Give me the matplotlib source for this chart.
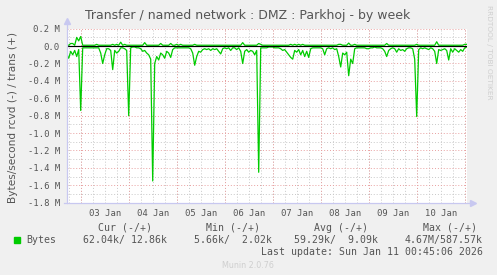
import numpy as np
import pandas as pd
import matplotlib
matplotlib.use("Agg")
import matplotlib.pyplot as plt
import matplotlib.dates as mdates
from matplotlib.transforms import blended_transform_factory

# ---------------- data (MB/s, hourly samples) ----------------
start_time = "2026-01-02 16:45"
rcvd = [0.10, 0.14, 0.06, 0.10, 0.05, 0.12, 0.04, 0.74, 0.02, 0.02,
        0.02, 0.02, 0.02, 0.02, 0.02, 0.02, 0.02, 0.08, 0.20, 0.10,
        0.03, 0.03, 0.05, 0.27, 0.05, 0.08, 0.06, 0.02, 0.02, 0.03,
        0.05, 0.80, 0.02, 0.01, 0.01, 0.02, 0.02, 0.03, 0.06, 0.05,
        0.08, 0.10, 0.15, 1.55, 0.20, 0.12, 0.16, 0.08, 0.10, 0.14,
        0.06, 0.08, 0.13, 0.04, 0.02, 0.02, 0.02, 0.02, 0.02, 0.02,
        0.02, 0.02, 0.03, 0.08, 0.22, 0.12, 0.06, 0.07, 0.04, 0.03,
        0.04, 0.03, 0.05, 0.03, 0.04, 0.03, 0.06, 0.09, 0.03, 0.02,
        0.03, 0.02, 0.05, 0.02, 0.02, 0.04, 0.02, 0.06, 0.20, 0.06,
        0.04, 0.07, 0.05, 0.06, 0.10, 0.05, 1.45, 0.02, 0.02, 0.02,
        0.02, 0.01, 0.01, 0.01, 0.02, 0.02, 0.02, 0.03, 0.05, 0.04,
        0.07, 0.10, 0.13, 0.15, 0.05, 0.07, 0.04, 0.10, 0.05, 0.12,
        0.06, 0.13, 0.03, 0.02, 0.02, 0.02, 0.02, 0.02, 0.03, 0.10,
        0.03, 0.02, 0.03, 0.02, 0.04, 0.03, 0.12, 0.24, 0.08, 0.10,
        0.07, 0.34, 0.15, 0.20, 0.03, 0.02, 0.02, 0.02, 0.02, 0.02,
        0.03, 0.03, 0.02, 0.02, 0.01, 0.02, 0.02, 0.02, 0.03, 0.06,
        0.12, 0.05, 0.03, 0.02, 0.03, 0.07, 0.03, 0.05, 0.04, 0.06,
        0.03, 0.02, 0.02, 0.03, 0.15, 0.81, 0.04, 0.02, 0.03, 0.02,
        0.03, 0.04, 0.02, 0.03, 0.06, 0.20, 0.04, 0.05, 0.04, 0.03,
        0.05, 0.16, 0.03, 0.07, 0.03, 0.05, 0.07, 0.04, 0.06, 0.02,
        0.01]
trans = [0.01, 0.01, 0.03, 0.03, 0.01, 0.10, 0.06, 0.11, 0.01, 0.01,
         0.01, 0.01, 0.01, 0.01, 0.01, 0.02, 0.01, 0.01, 0.01, 0.01,
         0.01, 0.01, 0.01, 0.02, 0.01, 0.02, 0.01, 0.045, 0.01, 0.02,
         0.01, 0.01, 0.01, 0.01, 0.01, 0.01, 0.01, 0.01, 0.01, 0.04,
         0.01, 0.01, 0.01, 0.01, 0.01, 0.01, 0.01, 0.03, 0.01, 0.01,
         0.01, 0.01, 0.03, 0.01, 0.01, 0.02, 0.01, 0.02, 0.01, 0.01,
         0.01, 0.01, 0.01, 0.01, 0.02, 0.01, 0.01, 0.01, 0.01, 0.01,
         0.01, 0.01, 0.01, 0.01, 0.01, 0.01, 0.01, 0.01, 0.01, 0.01,
         0.01, 0.01, 0.01, 0.01, 0.01, 0.01, 0.01, 0.01, 0.04, 0.01,
         0.01, 0.01, 0.01, 0.01, 0.01, 0.01, 0.03, 0.02, 0.01, 0.01,
         0.01, 0.01, 0.01, 0.01, 0.01, 0.01, 0.01, 0.01, 0.01, 0.01,
         0.01, 0.01, 0.02, 0.01, 0.02, 0.01, 0.02, 0.01, 0.02, 0.01,
         0.01, 0.01, 0.01, 0.01, 0.01, 0.01, 0.01, 0.01, 0.01, 0.01,
         0.01, 0.01, 0.01, 0.01, 0.01, 0.01, 0.02, 0.02, 0.01, 0.01,
         0.01, 0.035, 0.01, 0.01, 0.02, 0.01, 0.01, 0.01, 0.01, 0.01,
         0.01, 0.01, 0.01, 0.01, 0.01, 0.01, 0.01, 0.01, 0.01, 0.01,
         0.03, 0.01, 0.01, 0.01, 0.01, 0.01, 0.01, 0.01, 0.01, 0.01,
         0.01, 0.01, 0.01, 0.01, 0.01, 0.02, 0.01, 0.01, 0.01, 0.01,
         0.01, 0.01, 0.01, 0.01, 0.01, 0.05, 0.01, 0.01, 0.01, 0.01,
         0.01, 0.01, 0.01, 0.01, 0.01, 0.01, 0.01, 0.01, 0.01, 0.02,
         0.02]

yticks = [0.2, 0.0, -0.2, -0.4, -0.6, -0.8, -1.0, -1.2, -1.4, -1.6, -1.8]
ytick_labels = ["0.2 M", "0.0", "-0.2 M", "-0.4 M", "-0.6 M", "-0.8 M",
                "-1.0 M", "-1.2 M", "-1.4 M", "-1.6 M", "-1.8 M"]
day_labels = ["03 Jan", "04 Jan", "05 Jan", "06 Jan", "07 Jan", "08 Jan",
              "09 Jan", "10 Jan"]
title = "Transfer / named network : DMZ : Parkhoj - by week"
ylabel = "Bytes/second rcvd (-) / trans (+)"
legend_heads = ["Cur (-/+)", "Min (-/+)", "Avg (-/+)", "Max (-/+)"]
legend_vals = ["62.04k/ 12.86k", "5.66k/  2.02k", "59.29k/  9.09k", "4.67M/587.57k"]
series_name = "Bytes"
last_update = "Last update: Sun Jan 11 00:45:06 2026"
munin_ver = "Munin 2.0.76"
watermark = "RRDTOOL / TOBI OETIKER"

# ---------------- figure ----------------
W, H = 497, 275
fig = plt.figure(figsize=(W / 100, H / 100), dpi=100, facecolor="#F0F0F0")

def fx(px):
    return px / W

def fy(py):
    return 1 - py / H

left, right, top, bottom = 66.7, 466.7, 28.7, 202.7
ax = fig.add_axes([fx(left), fy(bottom), fx(right - left), (bottom - top) / H])
ax.set_facecolor("white")

times = pd.date_range(start_time, periods=len(rcvd), freq="h")
t0, t1 = mdates.date2num(times[0]), mdates.date2num(times[-1])
ax.set_xlim(t0, t1)
ax.set_ylim(-1.8, 0.2)

# grid
midnights = pd.date_range("2026-01-03", "2026-01-11", freq="D")
six_hours = pd.date_range("2026-01-02 18:00", "2026-01-11", freq="6h")
minor_y = np.arange(-1.7, 0.2, 0.2)
gray = "#C8C8C8"
red = "#E8A0A0"
for t in six_hours:
    ax.axvline(t, color=gray, lw=0.7, ls=(0, (1, 2)), zorder=1)
for v in minor_y:
    ax.axhline(v, color=gray, lw=0.7, ls=(0, (1, 2)), zorder=1)
for t in midnights:
    ax.axvline(t, color=red, lw=0.7, ls=(0, (1, 2)), zorder=1.5)
for v in yticks:
    ax.axhline(v, color=red, lw=0.7, ls=(0, (1, 2)), zorder=1.5)

# data
green = "#00CC00"
ax.plot(times, -np.array(rcvd), color=green, lw=0.9, zorder=3)
ax.plot(times, np.array(trans), color=green, lw=0.9, zorder=3)
ax.axhline(0, color="black", lw=0.85, zorder=4)

# axes styling
for s in ax.spines.values():
    s.set_visible(False)
axis_col = "#C8C8F0"
ax.plot([0, 0], [0, 1.03], transform=ax.transAxes, color=axis_col, lw=0.9,
        clip_on=False, zorder=5)
ax.plot([-0.008, 1.01], [0, 0], transform=ax.transAxes, color=axis_col, lw=0.9,
        clip_on=False, zorder=5)
ax.plot([0], [1.045], transform=ax.transAxes, marker="^", ms=4, color=axis_col,
        clip_on=False, zorder=5)
ax.plot([1.015], [0], transform=ax.transAxes, marker=">", ms=4, color=axis_col,
        clip_on=False, zorder=5)

ax.set_xticks([])
ax.set_yticks(yticks)
ax.set_yticklabels(ytick_labels, family="DejaVu Sans Mono", fontsize=6.4,
                   color="#555555")
ax.tick_params(axis="y", length=0, pad=5)

trans_x = blended_transform_factory(ax.transData, fig.transFigure)
for lab, d in zip(day_labels, midnights[:-1]):
    ax.text(mdates.date2num(d) + 0.5, fy(213), lab, transform=trans_x,
            ha="center", va="center", family="DejaVu Sans Mono", fontsize=6.4,
            color="#555555")

# texts
fig.text(fx(248), fy(16), title, ha="center", va="center", fontsize=9,
         color="#555555", family="DejaVu Sans")
fig.text(fx(13), fy(117), ylabel, rotation=90, ha="center", va="center",
         fontsize=7.6, color="#555555", family="DejaVu Sans")
fig.text(fx(489), fy(5), watermark, rotation=270, ha="center", va="top",
         fontsize=5.3, color="#CFCFCF", family="DejaVu Sans")

mono = dict(family="DejaVu Sans Mono", fontsize=7.1, color="#555555", va="center")
head_x = [125, 233, 341, 450]
val_x = [125, 233, 336, 444]
for hx, txt in zip(head_x, legend_heads):
    fig.text(fx(hx), fy(228), txt, ha="center", **mono)
for vx, txt in zip(val_x, legend_vals):
    fig.text(fx(vx), fy(240), txt, ha="center", **mono)
fig.patches.append(plt.Rectangle((fx(14), fy(242.7)), fx(6), 6 / H,
                                 transform=fig.transFigure, color=green))
fig.text(fx(26), fy(240), series_name, ha="left", **mono)
fig.text(fx(483), fy(252), last_update, ha="right", **mono)
fig.text(fx(248), fy(265), munin_ver, ha="center", va="center",
         family="DejaVu Sans", fontsize=5.8, color="#CFCFCF")

fig.savefig("out.png", dpi=100, facecolor=fig.get_facecolor())
